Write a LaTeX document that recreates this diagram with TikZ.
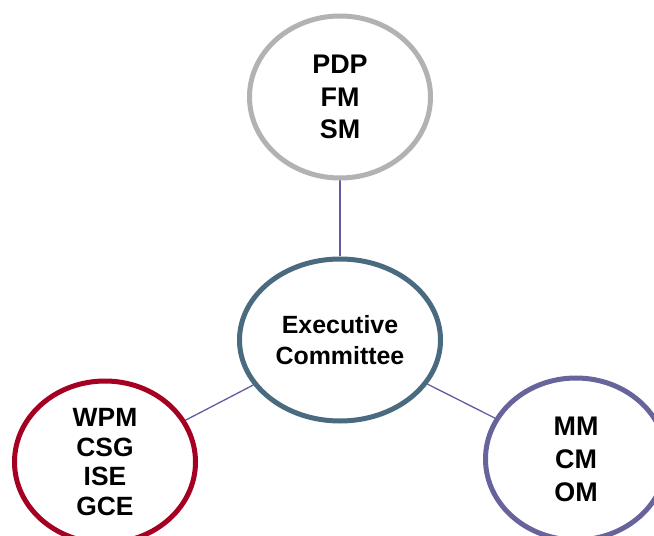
\documentclass[tikz,border=0pt]{standalone}
\usepackage{fontspec}
\setmainfont{Liberation Sans}
\usepackage{tikz}
\usetikzlibrary{shapes.geometric, backgrounds}

\definecolor{ringgray}{RGB}{178,178,178}
\definecolor{ringteal}{RGB}{74,106,128}
\definecolor{ringred}{RGB}{165,0,33}
\definecolor{ringpurple}{RGB}{102,100,155}
\definecolor{linkcol}{RGB}{100,90,160}

\begin{document}
\begin{tikzpicture}[x=1bp, y=-1bp,
  ring/.style={ellipse, draw, fill=white, line width=5bp, inner sep=0pt,
    align=center, font=\bfseries\fontsize{27}{33}\selectfont},
  link/.style={draw=linkcol, line width=1.3bp}]

\useasboundingbox (0,0) rectangle (654,536);

\node [ring, draw=ringteal, minimum width=201bp, minimum height=162bp,
  font=\bfseries\fontsize{25}{31}\selectfont] (exec) at (340,340) {Executive\\Committee};
\node [ring, draw=ringgray, minimum width=181bp, minimum height=162bp] (top) at (340,97) {PDP\\FM\\SM};
\node [ring, draw=ringred, minimum width=181bp, minimum height=162bp,
  font=\bfseries\fontsize{26.5}{29.5}\selectfont] (left) at (105,462) {WPM\\CSG\\ISE\\GCE};
\node [ring, draw=ringpurple, minimum width=181bp, minimum height=162bp] (right) at (576,459) {MM\\CM\\OM};

\begin{pgfonlayer}{background}
\path [link] (top) -- (exec);
\path [link] (left) -- (exec);
\path [link] (exec) -- (right);
\end{pgfonlayer}

\end{tikzpicture}
\end{document}
